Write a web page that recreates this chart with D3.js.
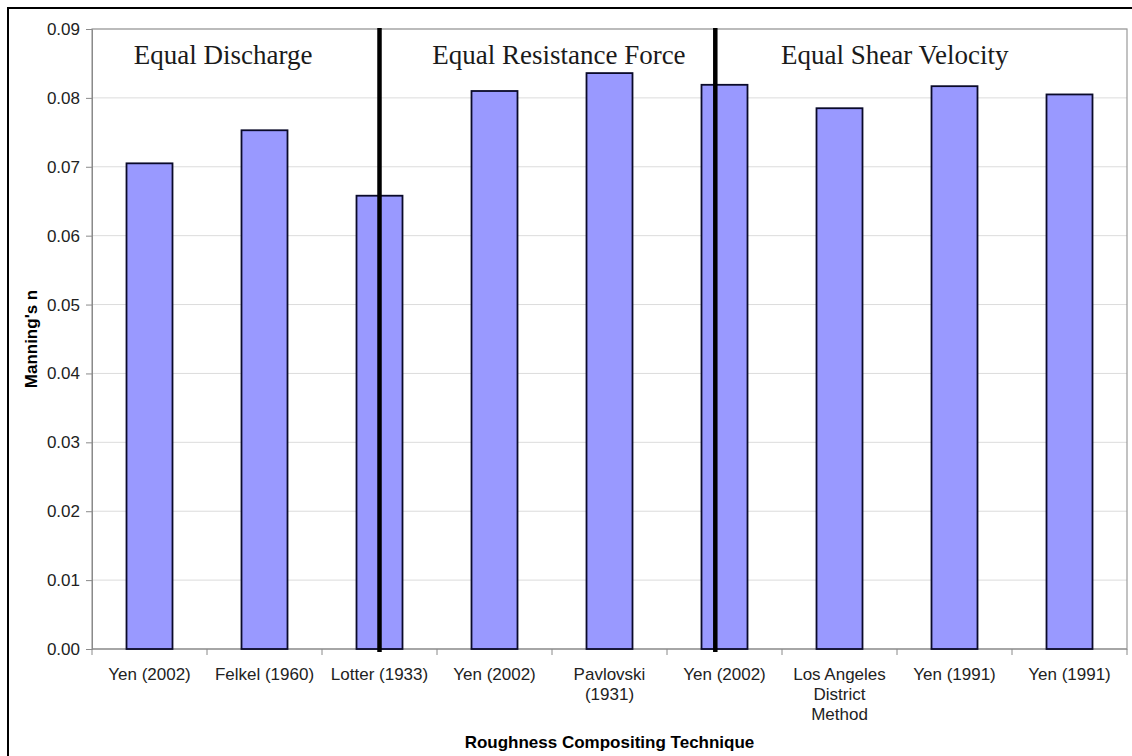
<!DOCTYPE html>
<html>
<head>
<meta charset="utf-8">
<script src="https://cdn.jsdelivr.net/npm/d3@7"></script>
<style>
  html, body { margin: 0; padding: 0; background: #fff; }
  svg { display: block; }
</style>
</head>
<body>
<svg id="chart" width="1132" height="756"></svg>
<script>
// ---- data ----
const categories = [
  ["Yen (2002)"],
  ["Felkel (1960)"],
  ["Lotter (1933)"],
  ["Yen (2002)"],
  ["Pavlovski", "(1931)"],
  ["Yen (2002)"],
  ["Los Angeles", "District", "Method"],
  ["Yen (1991)"],
  ["Yen (1991)"]
];
const values = [0.0705, 0.0753, 0.0658, 0.0810, 0.0836, 0.0819, 0.0785, 0.0817, 0.0805];
const yTicks = [0, 0.01, 0.02, 0.03, 0.04, 0.05, 0.06, 0.07, 0.08, 0.09];
const groupLabels = ["Equal Discharge", "Equal Resistance Force", "Equal Shear Velocity"];
const groupCenters = [1.14, 4.06, 6.98];     // in category-index units
const dividers = [2.5, 5.42];                // in category-index units
const yTitle = "Manning's n";
const xTitle = "Roughness Compositing Technique";

// ---- layout ----
const svg = d3.select("#chart");
const L = 92, R = 1127, T = 29, B = 649;

const x = d3.scaleBand().domain(d3.range(values.length)).range([L, R]).paddingInner(0.6).paddingOuter(0.3);
const xi = d3.scaleLinear().domain([0, values.length]).range([L, R]);
const y = d3.scaleLinear().domain([0, 0.09]).range([B, T]);

// outer frame
svg.append("rect").attr("x", 8).attr("y", 8).attr("width", 1140).attr("height", 760)
  .attr("fill", "#fff").attr("stroke", "#000").attr("stroke-width", 2);

// gridlines
svg.append("g").selectAll("line").data(yTicks.filter(d => d > 0)).join("line")
  .attr("x1", L).attr("x2", R).attr("y1", d => y(d)).attr("y2", d => y(d))
  .attr("stroke", "#dcdcdc").attr("stroke-width", 1);

// plot border
svg.append("rect").attr("x", L).attr("y", T).attr("width", R - L).attr("height", B - T)
  .attr("fill", "none").attr("stroke", "#9a9a9a").attr("stroke-width", 1.2);

// y axis
const yAxis = svg.append("g").attr("transform", `translate(${L},0)`)
  .call(d3.axisLeft(y).tickValues(yTicks).tickFormat(d3.format(".2f")).tickSize(6).tickPadding(6));
yAxis.select(".domain").attr("stroke", "#8a8a8a");
yAxis.selectAll(".tick line").attr("stroke", "#8a8a8a");
yAxis.selectAll("text").attr("font-family", "Liberation Sans, Arial, sans-serif")
  .attr("font-size", 17).attr("fill", "#222");

// x axis (ticks at band boundaries)
const xAxisG = svg.append("g").attr("transform", `translate(0,${B})`);
xAxisG.append("line").attr("x1", L).attr("x2", R).attr("y1", 0).attr("y2", 0).attr("stroke", "#8a8a8a").attr("stroke-width", 1.2);
xAxisG.selectAll("line.tk").data(d3.range(values.length + 1)).join("line").attr("class", "tk")
  .attr("x1", d => xi(d)).attr("x2", d => xi(d)).attr("y1", 0).attr("y2", 6)
  .attr("stroke", "#8a8a8a");

// bars
svg.append("g").selectAll("rect").data(values).join("rect")
  .attr("x", (d, i) => x(i)).attr("width", x.bandwidth())
  .attr("y", d => y(d)).attr("height", d => y(0) - y(d))
  .attr("fill", "#9999ff").attr("stroke", "#0a0a2a").attr("stroke-width", 1.8);

// category labels
const cl = svg.append("g").selectAll("text").data(categories).join("text")
  .attr("x", (d, i) => x(i) + x.bandwidth() / 2).attr("y", 680)
  .attr("text-anchor", "middle").attr("font-family", "Liberation Sans, Arial, sans-serif")
  .attr("font-size", 17).attr("fill", "#222");
cl.each(function(d, i) {
  d3.select(this).selectAll("tspan").data(d).join("tspan")
    .attr("x", x(i) + x.bandwidth() / 2).attr("dy", (t, j) => j === 0 ? 0 : 20).text(t => t);
});

// divider lines
svg.append("g").selectAll("line").data(dividers).join("line")
  .attr("x1", d => xi(d)).attr("x2", d => xi(d)).attr("y1", T - 1).attr("y2", B + 3)
  .attr("stroke", "#000").attr("stroke-width", 4.5);

// group labels
svg.append("g").selectAll("text").data(groupLabels).join("text")
  .attr("x", (d, i) => xi(groupCenters[i])).attr("y", 64)
  .attr("text-anchor", "middle").attr("font-family", "Liberation Serif, 'Times New Roman', serif")
  .attr("font-size", 27).attr("fill", "#1a1a1a").text(d => d);

// axis titles
svg.append("text").attr("transform", `translate(37,${(T + B) / 2}) rotate(-90)`)
  .attr("text-anchor", "middle").attr("font-family", "Liberation Sans, Arial, sans-serif")
  .attr("font-size", 17).attr("font-weight", "bold").attr("fill", "#000").text(yTitle);
svg.append("text").attr("x", (L + R) / 2).attr("y", 748)
  .attr("text-anchor", "middle").attr("font-family", "Liberation Sans, Arial, sans-serif")
  .attr("font-size", 17).attr("font-weight", "bold").attr("fill", "#000").text(xTitle);
</script>
</body>
</html>
